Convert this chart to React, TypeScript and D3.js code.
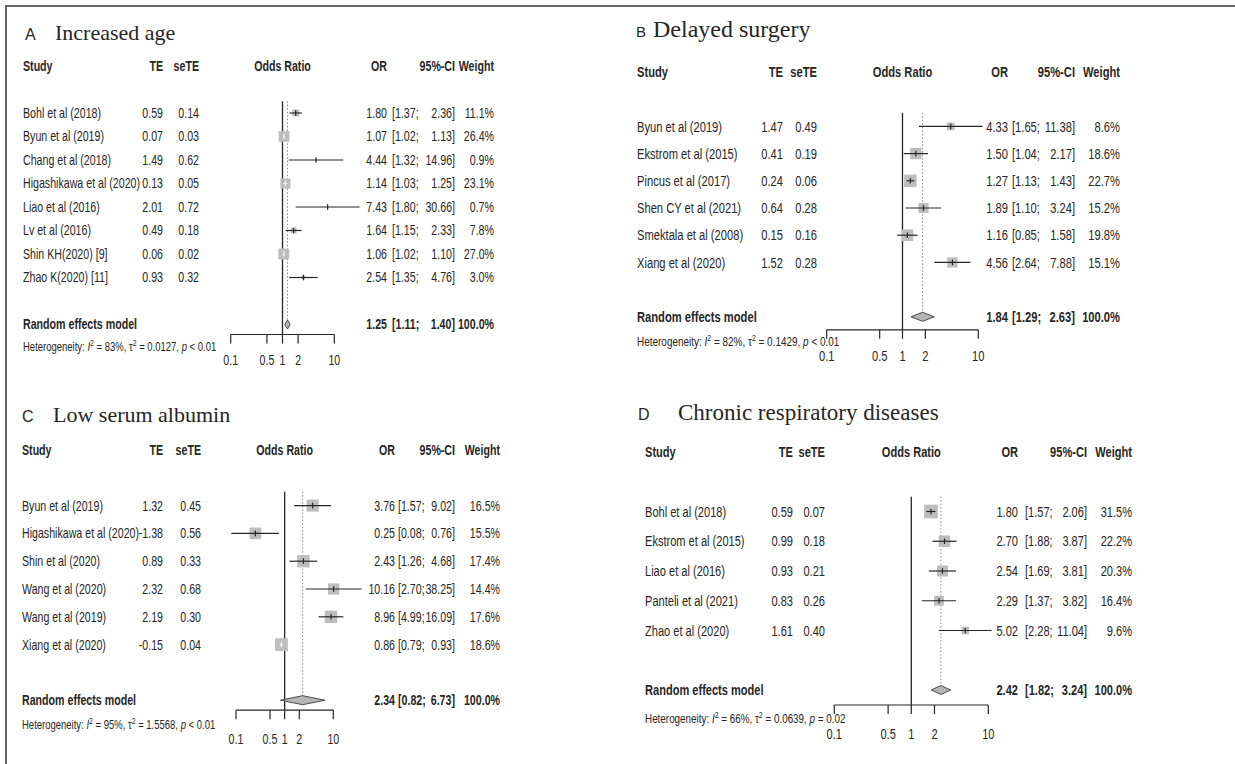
import React from 'react';
import * as d3 from 'd3';

// axis ticks shared by all four panels
const tickValues = [0.1, 0.5, 1, 2, 10];
const tickLabels = ['0.1', '0.5', '1', '2', '10'];

// A  Increased age
const studiesA = ['Bohl et al (2018)', 'Byun et al (2019)', 'Chang et al (2018)', 'Higashikawa et al (2020)', 'Liao et al (2016)', 'Lv et al (2016)', 'Shin KH(2020) [9]', 'Zhao K(2020) [11]'];
const teA = [0.59, 0.07, 1.49, 0.13, 2.01, 0.49, 0.06, 0.93];
const seteA = [0.14, 0.03, 0.62, 0.05, 0.72, 0.18, 0.02, 0.32];
const orA = [1.80, 1.07, 4.44, 1.14, 7.43, 1.64, 1.06, 2.54];
const loA = [1.37, 1.02, 1.32, 1.03, 1.80, 1.15, 1.02, 1.35];
const hiA = [2.36, 1.13, 14.96, 1.25, 30.66, 2.33, 1.10, 4.76];
const weightA = [11.1, 26.4, 0.9, 23.1, 0.7, 7.8, 27.0, 3.0];
const summaryA = [1.25, 1.11, 1.40];
const hetA = ['83%', '0.0127', '<', '0.01'];

// B  Delayed surgery
const studiesB = ['Byun et al (2019)', 'Ekstrom et al (2015)', 'Pincus et al (2017)', 'Shen CY et al (2021)', 'Smektala et al (2008)', 'Xiang et al (2020)'];
const teB = [1.47, 0.41, 0.24, 0.64, 0.15, 1.52];
const seteB = [0.49, 0.19, 0.06, 0.28, 0.16, 0.28];
const orB = [4.33, 1.50, 1.27, 1.89, 1.16, 4.56];
const loB = [1.65, 1.04, 1.13, 1.10, 0.85, 2.64];
const hiB = [11.38, 2.17, 1.43, 3.24, 1.58, 7.88];
const weightB = [8.6, 18.6, 22.7, 15.2, 19.8, 15.1];
const summaryB = [1.84, 1.29, 2.63];
const hetB = ['82%', '0.1429', '<', '0.01'];

// C  Low serum albumin
const studiesC = ['Byun et al (2019)', 'Higashikawa et al (2020)', 'Shin et al (2020)', 'Wang et al (2020)', 'Wang et al (2019)', 'Xiang et al (2020)'];
const teC = [1.32, -1.38, 0.89, 2.32, 2.19, -0.15];
const seteC = [0.45, 0.56, 0.33, 0.68, 0.30, 0.04];
const orC = [3.76, 0.25, 2.43, 10.16, 8.96, 0.86];
const loC = [1.57, 0.08, 1.26, 2.70, 4.99, 0.79];
const hiC = [9.02, 0.76, 4.68, 38.25, 16.09, 0.93];
const weightC = [16.5, 15.5, 17.4, 14.4, 17.6, 18.6];
const summaryC = [2.34, 0.82, 6.73];
const hetC = ['95%', '1.5568', '<', '0.01'];

// D  Chronic respiratory diseases
const studiesD = ['Bohl et al (2018)', 'Ekstrom et al (2015)', 'Liao et al (2016)', 'Panteli et al (2021)', 'Zhao et al (2020)'];
const teD = [0.59, 0.99, 0.93, 0.83, 1.61];
const seteD = [0.07, 0.18, 0.21, 0.26, 0.40];
const orD = [1.80, 2.70, 2.54, 2.29, 5.02];
const loD = [1.57, 1.88, 1.69, 1.37, 2.28];
const hiD = [2.06, 3.87, 3.81, 3.82, 11.04];
const weightD = [31.5, 22.2, 20.3, 16.4, 9.6];
const summaryD = [2.42, 1.82, 3.24];
const hetD = ['66%', '0.0639', '=', '0.02'];

const SANS = "'Liberation Sans', Arial, sans-serif";
const INK = '#262626';
const SX = 0.76; // squeeze Liberation Sans to look like Arial Narrow

// narrow text, vertically centred on y
function T({ x, y, anchor = 'start', size = 14, bold = false, children }) {
  return (
    <text
      transform={`translate(${x},${y}) scale(${SX},1)`}
      dy=".35em"
      textAnchor={anchor}
      fontSize={size}
      fontWeight={bold ? 'bold' : 'normal'}
    >
      {children}
    </text>
  );
}

function Panel({ p }) {
  const x = d3.scaleLog().domain([0.1, 10]).range([p.ax0, p.ax1]);
  const n = p.studies.length;
  const fs = 14 * p.fs;
  const rowY = i => p.headerY + (i + 2) * p.step;
  const sumY = p.headerY + (n + 3) * p.step;
  const axisY = sumY + p.axisGap;
  const lineTop = rowY(0) - p.step / 2;
  const wmax = d3.max(p.weight);
  const size = d3.scaleSqrt().domain([0, wmax]).range([0, p.step * 0.46]);
  const [sOr, sLo, sHi] = p.summary;
  const dh = 4.5;

  return (
    <g fill={INK} fontFamily={SANS}>
      <text x={p.lx} y={p.titleY} fontSize={p.letterSize}>{p.letter}</text>
      <text x={p.tx} y={p.titleY} fontFamily="'Liberation Serif', 'Times New Roman', serif" fontSize={p.titleSize}>{p.title}</text>

      <T x={p.cStudy} y={p.headerY} size={fs} bold>Study</T>
      <T x={p.cTe} y={p.headerY} size={fs} anchor="end" bold>TE</T>
      <T x={p.cSe} y={p.headerY} size={fs} anchor="end" bold>seTE</T>
      <T x={x(1)} y={p.headerY} size={fs} anchor="middle" bold>Odds Ratio</T>
      <T x={p.cOr} y={p.headerY} size={fs} anchor="end" bold>OR</T>
      <T x={p.cCi} y={p.headerY} size={fs} anchor="end" bold>95%-CI</T>
      <T x={p.cW} y={p.headerY} size={fs} anchor="end" bold>Weight</T>

      {p.studies.map((s, i) => (
        <g key={s + i}>
          <T x={p.cStudy} y={rowY(i)} size={fs}>{s}</T>
          <T x={p.cTe} y={rowY(i)} size={fs} anchor="end">{p.te[i].toFixed(2)}</T>
          <T x={p.cSe} y={rowY(i)} size={fs} anchor="end">{p.sete[i].toFixed(2)}</T>
          <T x={p.cOr} y={rowY(i)} size={fs} anchor="end">{p.or[i].toFixed(2)}</T>
          <T x={p.cCiL} y={rowY(i)} size={fs}>{'[' + p.lo[i].toFixed(2) + ';'}</T>
          <T x={p.cCi} y={rowY(i)} size={fs} anchor="end">{p.hi[i].toFixed(2) + ']'}</T>
          <T x={p.cW} y={rowY(i)} size={fs} anchor="end">{p.weight[i].toFixed(1) + '%'}</T>
        </g>
      ))}

      <T x={p.cStudy} y={sumY} size={fs} bold>Random effects model</T>
      <T x={p.cOr} y={sumY} size={fs} anchor="end" bold>{sOr.toFixed(2)}</T>
      <T x={p.cCiL} y={sumY} size={fs} bold>{'[' + sLo.toFixed(2) + ';'}</T>
      <T x={p.cCi} y={sumY} size={fs} anchor="end" bold>{sHi.toFixed(2) + ']'}</T>
      <T x={p.cW} y={sumY} size={fs} anchor="end" bold>100.0%</T>

      <text transform={`translate(${p.cStudy},${axisY + p.hetGap}) scale(${SX},1)`} fontSize={12.5 * p.fs}>
        Heterogeneity: <tspan fontStyle="italic">I</tspan>
        <tspan dy={-5} fontSize={9}>2</tspan>
        <tspan dy={5}>{' = ' + p.het[0] + ', \u03c4'}</tspan>
        <tspan dy={-5} fontSize={9}>2</tspan>
        <tspan dy={5}>{' = ' + p.het[1] + ', '}</tspan>
        <tspan fontStyle="italic">p</tspan>
        <tspan>{' ' + p.het[2] + ' ' + p.het[3]}</tspan>
      </text>

      {/* reference lines */}
      <line x1={x(1)} x2={x(1)} y1={lineTop} y2={axisY} stroke={INK} strokeWidth={1.3} />
      <line x1={x(sOr)} x2={x(sOr)} y1={lineTop} y2={sumY - dh} stroke="#8a8a8a" strokeWidth={1} strokeDasharray="1.5,2" />

      {p.studies.map((s, i) => {
        const cx = x(p.or[i]);
        const h = size(p.weight[i]);
        const inside = x(p.lo[i]) >= cx - h / 2 && x(p.hi[i]) <= cx + h / 2;
        const c = inside && p.lightInside ? '#f2f2f2' : INK;
        return (
          <g key={'m' + i}>
            <rect x={cx - h / 2} y={rowY(i) - h / 2} width={h} height={h} fill="#bdbdbd" />
            <line x1={x(p.lo[i])} x2={x(p.hi[i])} y1={rowY(i)} y2={rowY(i)} stroke={c} strokeWidth={1.2} />
            <line x1={cx} x2={cx} y1={rowY(i) - 2.8} y2={rowY(i) + 2.8} stroke={c} strokeWidth={1.2} />
          </g>
        );
      })}

      <path
        d={`M${x(sLo)},${sumY} L${x(sOr)},${sumY - dh} L${x(sHi)},${sumY} L${x(sOr)},${sumY + dh} Z`}
        fill="#b5b5b5" stroke="#4a4a4a" strokeWidth={1}
      />

      {/* axis */}
      <g stroke={INK} strokeWidth={1.2} fill="none">
        <line x1={x(0.1)} x2={x(10)} y1={axisY} y2={axisY} />
        {tickValues.map(t => (
          <line key={t} x1={x(t)} x2={x(t)} y1={axisY} y2={axisY + 9} />
        ))}
      </g>
      {tickValues.map((t, i) => (
        <T key={'l' + t} x={x(t)} y={axisY + p.labGap} anchor="middle" size={fs}>{tickLabels[i]}</T>
      ))}
    </g>
  );
}

export default function App() {
  const panels = [
    {
      letter: 'A', title: 'Increased age', lx: 25, tx: 55, titleY: 40, titleSize: 22, letterSize: 16, fs: 1,
      headerY: 66, step: 23.5, axisGap: 10, hetGap: 16, labGap: 26, ax0: 230.7, ax1: 334.3, lightInside: true,
      cStudy: 23, cTe: 163, cSe: 199, cOr: 387, cCiL: 392, cCi: 455, cW: 494,
      studies: studiesA, te: teA, sete: seteA, or: orA, lo: loA, hi: hiA, weight: weightA, summary: summaryA, het: hetA,
    },
    {
      letter: 'B', title: 'Delayed surgery', lx: 636, tx: 653, titleY: 37, titleSize: 24, letterSize: 15, fs: 1.05,
      headerY: 72, step: 27.2, axisGap: 13, hetGap: 16, labGap: 26, ax0: 826.7, ax1: 978.3, lightInside: false,
      cStudy: 637, cTe: 783, cSe: 817, cOr: 1008, cCiL: 1012, cCi: 1075, cW: 1120,
      studies: studiesB, te: teB, sete: seteB, or: orB, lo: loB, hi: hiB, weight: weightB, summary: summaryB, het: hetB,
    },
    {
      letter: 'C', title: 'Low serum albumin', lx: 22, tx: 53, titleY: 422, titleSize: 22, letterSize: 16, fs: 1,
      headerY: 450, step: 27.8, axisGap: 10, hetGap: 19, labGap: 29, ax0: 236, ax1: 333.3, lightInside: true,
      cStudy: 22, cTe: 163, cSe: 201, cOr: 395, cCiL: 398, cCi: 455, cW: 500,
      studies: studiesC, te: teC, sete: seteC, or: orC, lo: loC, hi: hiC, weight: weightC, summary: summaryC, het: hetC,
    },
    {
      letter: 'D', title: 'Chronic respiratory diseases', lx: 638, tx: 678, titleY: 420, titleSize: 23, letterSize: 16, fs: 1.04,
      headerY: 452, step: 29.75, axisGap: 15, hetGap: 18, labGap: 29, ax0: 834.3, ax1: 988.3, lightInside: false,
      cStudy: 645, cTe: 793, cSe: 825, cOr: 1018, cCiL: 1025, cCi: 1087, cW: 1132,
      studies: studiesD, te: teD, sete: seteD, or: orD, lo: loD, hi: hiD, weight: weightD, summary: summaryD, het: hetD,
    },
  ];

  return (
    <svg width={1235} height={764} style={{ position: 'absolute', left: 0, top: 0, background: '#fff' }}>
      <rect width={1235} height={764} fill="#fff" />
      <line x1={5} x2={1235} y1={6} y2={6} stroke="#666" strokeWidth={2} />
      <line x1={6} x2={6} y1={5} y2={764} stroke="#666" strokeWidth={2} />
      {panels.map(p => <Panel key={p.letter} p={p} />)}
    </svg>
  );
}
